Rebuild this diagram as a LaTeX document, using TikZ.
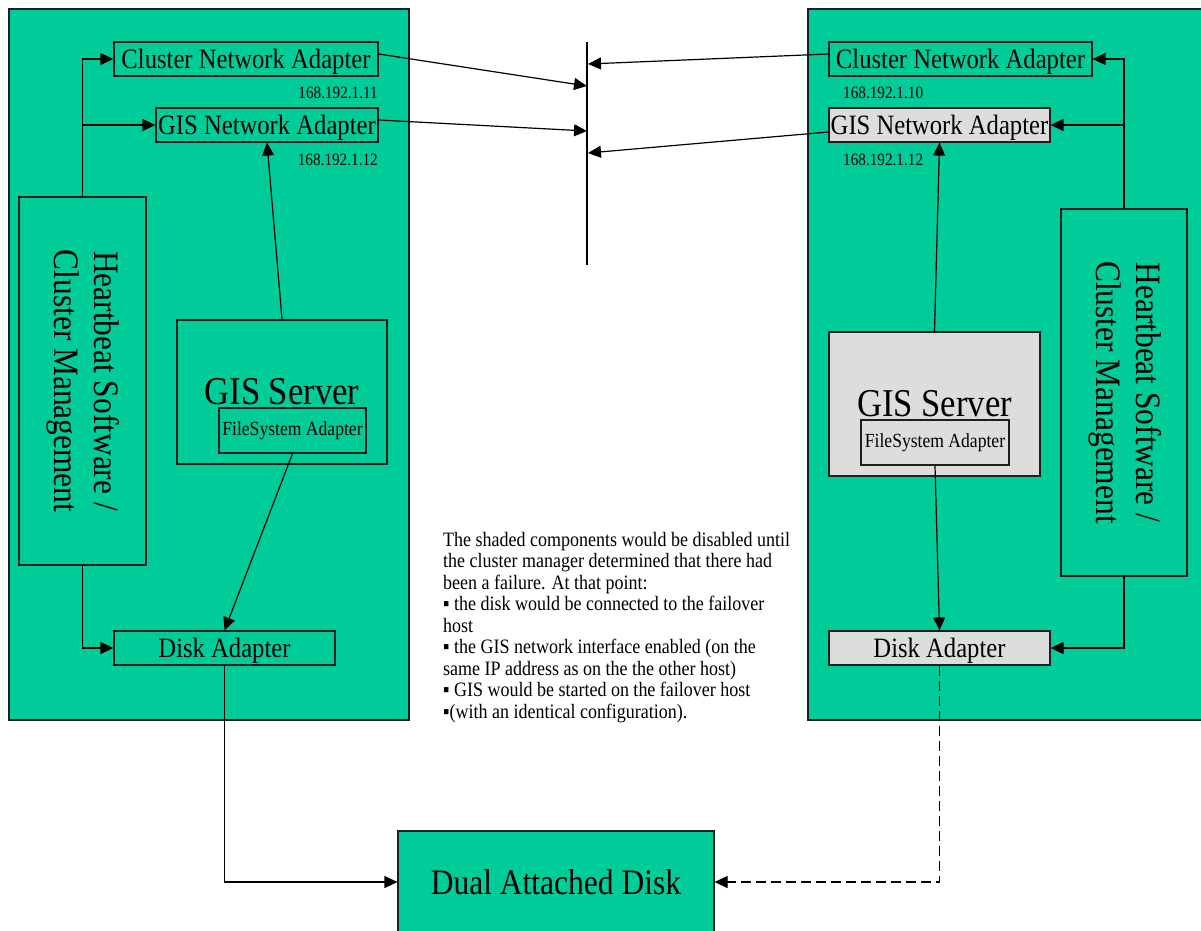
\documentclass[tikz,border=0pt]{standalone}
\usepackage{fontspec}
\setmainfont{Liberation Serif}[FakeStretch=0.88]
\usetikzlibrary{arrows.meta}
\definecolor{hostgreen}{RGB}{0,204,153}
\definecolor{shade}{RGB}{221,221,221}
\definecolor{edge}{RGB}{30,30,30}
\begin{document}
\begin{tikzpicture}[x=1pt,y=-1pt,
  box/.style={draw=edge,line width=1.2pt,inner sep=0pt,fill=hostgreen,text=black},
  gbox/.style={box,fill=shade},
  adapt/.style={font=\fontsize{28}{33}\selectfont,text depth=0pt},
  ip/.style={inner sep=0pt,font=\fontsize{17.3}{20}\selectfont},
  conn/.style={line width=1.2pt,draw=black},
  arr/.style={conn,-{Triangle[length=13pt,width=12pt]}},
  dashconn/.style={arr,dash pattern=on 10pt off 5pt}
]
\clip (0,0) rectangle (1201,930);
\fill[white] (0,0) rectangle (1201,930);

% hosts
\node[box,minimum width=400pt,minimum height=711pt] (hostL) at (209,364.5) {};
\node[box,minimum width=407pt,minimum height=711pt] (hostR) at (1011.5,364.5) {};

% left host
\node[box,adapt,minimum width=264pt,minimum height=34pt] (cnaL) at (246,59) {Cluster Network Adapter};
\node[ip,anchor=east] (ipL1) at (378,92.5) {168.192.1.11};
\node[box,adapt,minimum width=222pt,minimum height=34pt] (gnaL) at (267,125) {GIS Network Adapter};
\node[ip,anchor=east] (ipL2) at (378,159.5) {168.192.1.12};
\node[box,minimum width=127pt,minimum height=368pt] (hbL) at (82.5,381)
  {\rotatebox[origin=c]{-90}{\fontsize{35.7}{40}\selectfont\begin{tabular}{@{}c@{}}Heartbeat Software /\\Cluster Management\end{tabular}}};
\node[box,minimum width=210pt,minimum height=144pt,font=\fontsize{39.4}{44}\selectfont] (gsL) at (282,392) {GIS Server};
\node[box,minimum width=147pt,minimum height=45pt,font=\fontsize{20}{24}\selectfont] (fsL) at (292.5,430.5) {FileSystem Adapter};
\node[box,adapt,minimum width=221pt,minimum height=34pt] (daL) at (224.5,648) {Disk Adapter};

% right host
\node[box,adapt,minimum width=263pt,minimum height=34pt] (cnaR) at (960.5,59) {Cluster Network Adapter};
\node[ip,anchor=west] (ipR1) at (843,92.5) {168.192.1.10};
\node[gbox,adapt,minimum width=221pt,minimum height=34pt] (gnaR) at (939.5,125) {GIS Network Adapter};
\node[ip,anchor=west] (ipR2) at (843,159.5) {168.192.1.12};
\node[box,minimum width=126pt,minimum height=367pt] (hbR) at (1124,392.5)
  {\rotatebox[origin=c]{-90}{\fontsize{35.7}{40}\selectfont\begin{tabular}{@{}c@{}}Heartbeat Software /\\Cluster Management\end{tabular}}};
\node[gbox,minimum width=211pt,minimum height=144pt,font=\fontsize{39.4}{44}\selectfont] (gsR) at (934.5,404) {GIS Server};
\node[gbox,minimum width=148pt,minimum height=45pt,font=\fontsize{20}{24}\selectfont] (fsR) at (935,442.5) {FileSystem Adapter};
\node[gbox,adapt,minimum width=221pt,minimum height=34pt] (daR) at (939.5,648) {Disk Adapter};

% disk
\node[box,minimum width=316pt,minimum height=102pt,font=\fontsize{35.8}{40}\selectfont] (disk) at (556,882) {Dual Attached Disk};

% network bus
\coordinate (busT) at (587,42);
\coordinate (busB) at (587,265);
\coordinate (b1) at (587,86);
\coordinate (b2) at (587,131);
\coordinate (b3) at (588,64);
\coordinate (b4) at (588,153);
\draw[conn] (busT) -- (busB);
\draw[arr] ([yshift=5pt]cnaL.east) -- (b1);
\draw[arr] ([yshift=5pt]gnaL.east) -- (b2);
\draw[arr] ([yshift=5pt]cnaR.west) -- (b3);
\draw[arr] ([yshift=-7pt]gnaR.west) -- (b4);

% left host connectors
\draw[arr] (hbL.north) |- (cnaL.west);
\draw[arr] (hbL.north |- gnaL.west) -- (gnaL.west);
\draw[arr] (hbL.south) |- (daL.west);
\draw[arr] (gsL.north) -- (gnaL.south);
\draw[arr] (fsL.south) -- (daL.north);

% right host connectors
\draw[arr] (hbR.north) |- (cnaR.east);
\draw[arr] (hbR.north |- gnaR.east) -- (gnaR.east);
\draw[arr] (hbR.south) |- (daR.east);
\draw[arr] (gsR.north) -- (gnaR.south);
\draw[arr] (fsR.south) -- (daR.north);

% disk connections
\draw[arr] (daL.south) |- (disk.west);
\draw[dashconn] (daR.south) |- (disk.east);

% note
\node[inner sep=0pt,anchor=north west,align=left,font=\fontsize{20.45}{21.5}\selectfont] (note) at (443,532)
{The shaded components would be disabled until\\
the cluster manager determined that there had\\
been a failure. At that point:\\
▪ the disk would be connected to the failover\\
host\\
▪ the GIS network interface enabled (on the\\
same IP address as on the the other host)\\
▪ GIS would be started on the failover host\\
▪(with an identical configuration).};
\end{tikzpicture}
\end{document}
